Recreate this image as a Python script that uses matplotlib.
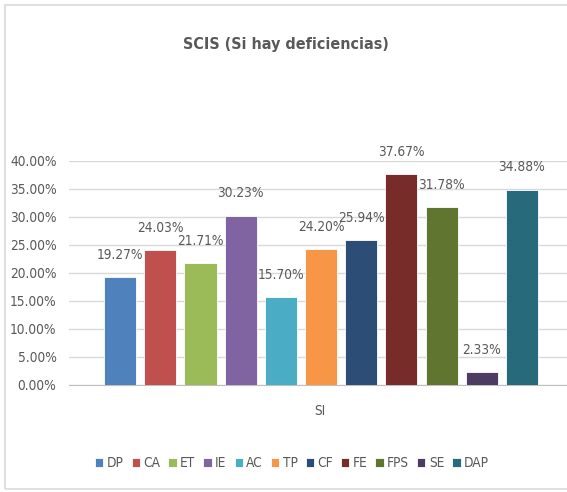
import matplotlib.pyplot as plt
from matplotlib.patches import Rectangle

plt.rcParams['font.family'] = ['DejaVu Sans']
plt.rcParams['font.stretch'] = 'condensed'

# data
series = ['DP', 'CA', 'ET', 'IE', 'AC', 'TP', 'CF', 'FE', 'FPS', 'SE', 'DAP']
values = [19.27, 24.03, 21.71, 30.23, 15.70, 24.20, 25.94, 37.67, 31.78, 2.33, 34.88]
colors = ['#4F81BD', '#C0504D', '#9BBB59', '#8064A2', '#4BACC6', '#F79646',
          '#2C4D75', '#772C2A', '#5F7530', '#4D3B62', '#276A7C']
category = 'SI'
title = 'SCIS (Si hay deficiencias)'
yticks = [0, 5, 10, 15, 20, 25, 30, 35, 40]

W, H = 567, 492
fig = plt.figure(figsize=(W / 100, H / 100), dpi=100)

# chart border
fig.patches.append(Rectangle((5 / W, 1 - 489 / H), 600 / W, 484 / H,
                             transform=fig.transFigure, fill=False,
                             edgecolor='#d9d9d9', lw=1.2))

ax = fig.add_axes([69 / W, 107 / H, 498 / W, 224 / H])
txt = '#595959'
fs = 9.8

bars = []
for i, (s, v, c) in enumerate(zip(series, values, colors)):
    b = ax.bar(i, v, width=0.8, color=c, edgecolor='white', lw=0.6, label=s, zorder=3)
    bars.append(b)
    ax.annotate(f'{v:.2f}%', (i, v), xytext=(0, 16), textcoords='offset points',
                ha='center', va='center', fontsize=fs, color=txt, annotation_clip=False)

ax.set_xlim(-1.27, 11.12)
ax.set_ylim(0, 40)
ax.set_yticks(yticks)
ax.set_yticklabels([f'{t:.2f}%' for t in yticks])
ax.tick_params(axis='y', length=0, pad=9, labelsize=fs, labelcolor=txt)
ax.set_xticks([])
ax.grid(axis='y', color='#d9d9d9', lw=1, zorder=0)
for sp in ['top', 'right', 'left']:
    ax.spines[sp].set_visible(False)
ax.spines['bottom'].set_color('#bfbfbf')

fig.text(320 / W, 1 - 411 / H, category, ha='center', va='center', fontsize=fs, color=txt)
fig.text(286 / W, 1 - 45 / H, title, ha='center', va='center', fontsize=11.5,
         fontweight='bold', color=txt)

fig.legend(handles=[b for b in bars], labels=series, loc='center',
           bbox_to_anchor=(292 / W, 1 - 463 / H), ncol=11, frameon=False,
           fontsize=fs, handlelength=0.6, handleheight=0.6, handletextpad=0.25,
           columnspacing=0.6, labelcolor=txt)

fig.savefig('out.png', dpi=100)
